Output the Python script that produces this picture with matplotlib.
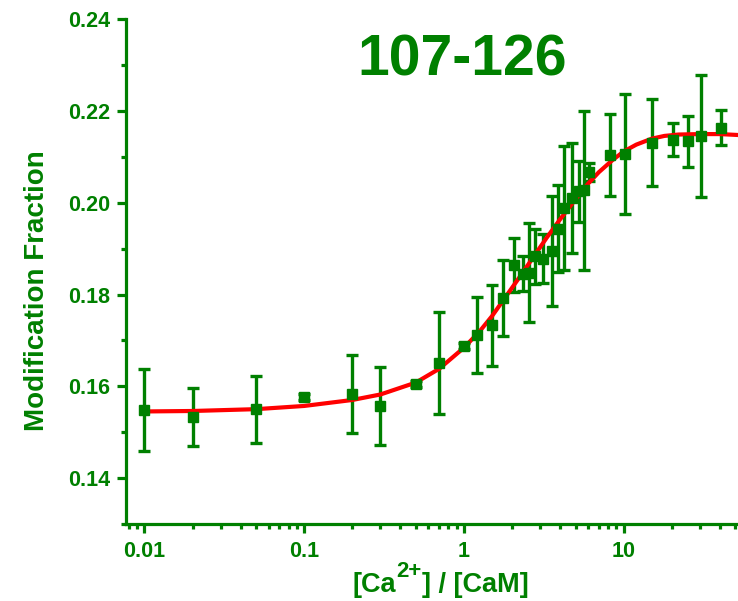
import matplotlib
matplotlib.use("Agg")
import matplotlib.pyplot as plt
from matplotlib.ticker import FixedLocator, FixedFormatter, NullFormatter

plt.rcParams['font.family'] = ['Liberation Sans', 'DejaVu Sans']
plt.rcParams['font.weight'] = 'bold'

GREEN = '#008000'
RED = '#ff0000'

# ---- data ----
ratio = [0.01, 0.02, 0.05, 0.1, 0.2, 0.3, 0.5, 0.7, 1.0, 1.2, 1.5, 1.75,
         2.05, 2.35, 2.55, 2.8, 3.15, 3.58, 3.9, 4.25, 4.77, 5.25, 5.65, 6.05,
         8.2, 10.2, 15.0, 20.3, 25.2, 30.5, 40.6]
fraction = [0.1548, 0.1533, 0.1550, 0.1576, 0.1584, 0.1557, 0.1605, 0.1650,
            0.1688, 0.1712, 0.1733, 0.1792, 0.1864, 0.1845, 0.1848, 0.1883,
            0.1878, 0.1896, 0.1944, 0.1989, 0.2011, 0.2025, 0.2027, 0.2067,
            0.2105, 0.2107, 0.2131, 0.2138, 0.2134, 0.2145, 0.2164]
error = [0.0089, 0.0064, 0.0073, 0.0006, 0.0085, 0.0086, 0.0006, 0.0111,
         0.0006, 0.0083, 0.0088, 0.0083, 0.0059, 0.0038, 0.0108, 0.0060,
         0.0053, 0.0120, 0.0094, 0.0135, 0.0120, 0.0067, 0.0173, 0.0020,
         0.0089, 0.0131, 0.0095, 0.0036, 0.0055, 0.0133, 0.0038]

# fitted curve, points
fit_x = [0.01, 0.02, 0.05, 0.1, 0.2, 0.3, 0.5, 0.7, 1.0, 1.25, 1.5,
         1.8, 2.2, 2.7, 3.3, 4.0, 5.0, 6.0, 7.0, 8.5, 10.0, 12.0, 15.0, 18.0,
         22.0, 30.0, 40.0, 52.0]
fit_y = [0.1545, 0.1546, 0.1550, 0.1557, 0.1570, 0.1582, 0.1608,
         0.1638, 0.1684, 0.1719, 0.1753, 0.1792, 0.1835, 0.1880, 0.1924,
         0.1964, 0.2008, 0.2042, 0.2067, 0.2093, 0.2112, 0.2127, 0.2140,
         0.2146, 0.2149, 0.2150, 0.2150, 0.2148]

x_major = [0.01, 0.1, 1, 10]
x_major_labels = ['0.01', '0.1', '1', '10']
y_major = [0.14, 0.16, 0.18, 0.20, 0.22, 0.24]
y_major_labels = ['0.14', '0.16', '0.18', '0.20', '0.22', '0.24']
y_minor = [0.13, 0.15, 0.17, 0.19, 0.21, 0.23]

title = '107-126'
xlabel_parts = ['[Ca', '2+', '] / [CaM]']
ylabel = 'Modification Fraction'

# ---- figure ----
fig = plt.figure(figsize=(7.38, 6.01), dpi=100)
ax = fig.add_axes([0.1714, 0.1285, 0.8286, 0.8391])
ax.set_xscale('log')
ax.set_xlim(0.00772, 52)
ax.set_ylim(0.13, 0.24)

ax.errorbar(ratio, fraction, yerr=error, fmt='none', ecolor=GREEN,
            elinewidth=2.4, capsize=4.5, capthick=2.4, zorder=2)
ax.plot(fit_x, fit_y, color=RED, lw=3.0, zorder=3, solid_capstyle='round')
ax.plot(ratio, fraction, linestyle='none', marker='s', markersize=7.5,
        color=GREEN, zorder=4)

for s in ['top', 'right']:
    ax.spines[s].set_visible(False)
for s in ['left', 'bottom']:
    ax.spines[s].set_color(GREEN)
    ax.spines[s].set_linewidth(2.3)

ax.xaxis.set_major_locator(FixedLocator(x_major))
ax.xaxis.set_major_formatter(FixedFormatter(x_major_labels))
minors = [m * d for d in [0.001, 0.01, 0.1, 1, 10] for m in range(2, 10)]
ax.xaxis.set_minor_locator(FixedLocator(minors))
ax.xaxis.set_minor_formatter(NullFormatter())
ax.yaxis.set_major_locator(FixedLocator(y_major))
ax.yaxis.set_major_formatter(FixedFormatter(y_major_labels))
ax.yaxis.set_minor_locator(FixedLocator(y_minor))

ax.tick_params(which='both', direction='out', color=GREEN, labelcolor=GREEN,
               width=2.3)
ax.tick_params(which='major', length=6.5, labelsize=15.5)
ax.tick_params(axis='x', which='major', pad=6)
ax.tick_params(axis='y', which='major', pad=5)
ax.tick_params(which='minor', length=3.5)
for lbl in ax.get_xticklabels() + ax.get_yticklabels():
    lbl.set_fontweight('bold')

fig.text(0.626, 1 - 60 / 601, title, fontsize=41, fontweight='bold',
         color=GREEN, ha='center', va='center')

# x label built from pieces so the superscript can be large
t1 = fig.text(353 / 738, 1 - 598 / 601, xlabel_parts[0], fontsize=19.5,
              fontweight='bold', color=GREEN, ha='left', va='bottom')
t2 = ax.annotate(xlabel_parts[1], xy=(1.0, 0.62), xycoords=t1, fontsize=16,
                 fontweight='bold', color=GREEN, ha='left', va='bottom',
                 annotation_clip=False)
t3 = ax.annotate(xlabel_parts[2], xy=(1.0, 0.0), xycoords=(t2, t1),
                 fontsize=19.5, fontweight='bold', color=GREEN, ha='left',
                 va='bottom', annotation_clip=False)

fig.text(37 / 738, 1 - 291 / 601, ylabel, fontsize=20, fontweight='bold',
         color=GREEN, ha='center', va='center', rotation=90)

fig.savefig('out.png', dpi=100)
